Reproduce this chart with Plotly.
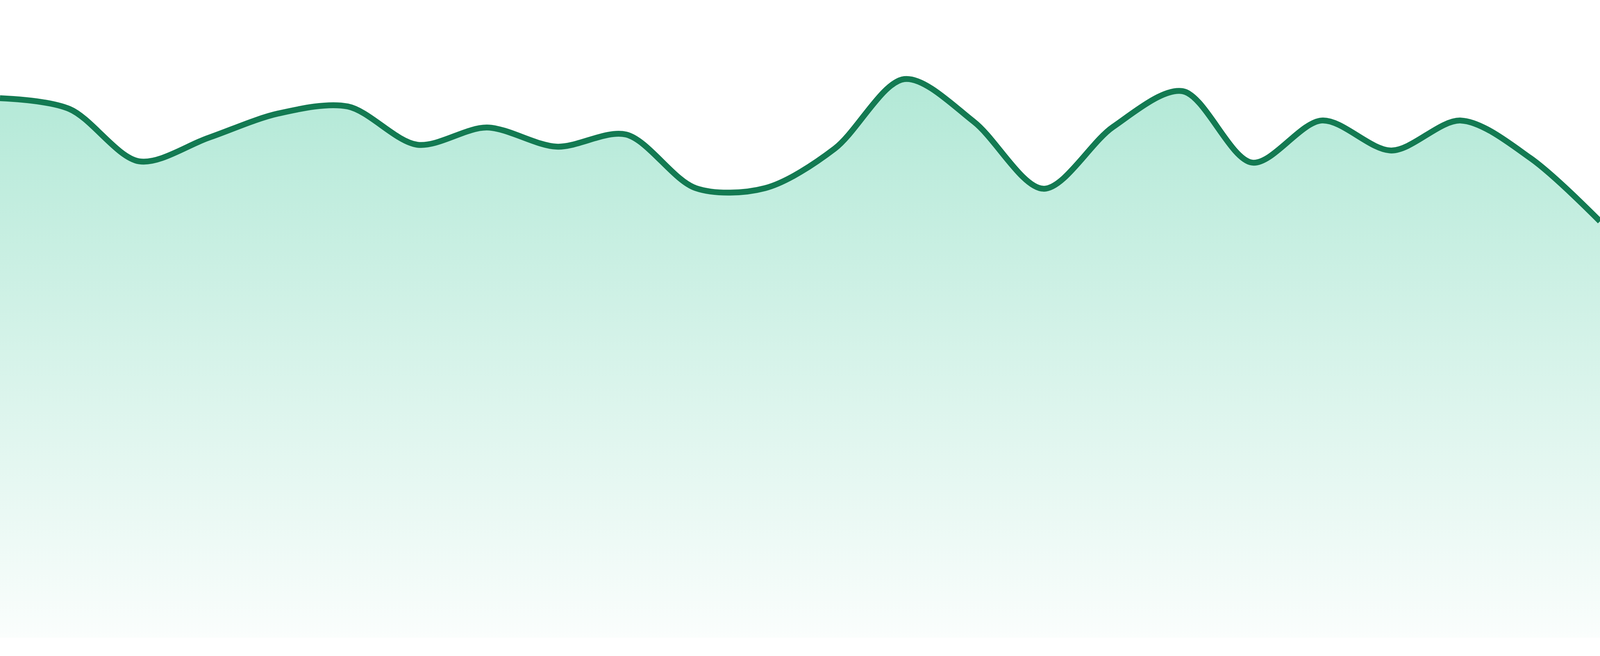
import plotly.graph_objects as go

# ── Data ──────────────────────────────────────────────────────
# 24 evenly spaced samples
steps = list(range(24))
values = [84.6, 82.9, 74.7, 78.4, 82.2, 83.3, 77.3, 80.0,
          77.0, 78.9, 70.5, 70.5, 76.7, 87.6, 80.9, 70.4,
          80.1, 85.7, 74.5, 81.1, 76.4, 81.1, 75.2, 65.3]

LINE_COLOR = "#137a52"

fig = go.Figure()

fig.add_trace(go.Scatter(
    x=steps, y=values,
    mode="lines",
    line=dict(color=LINE_COLOR, width=15, shape="spline", smoothing=0.9),
    fill="tozeroy",
    fillgradient=dict(
        type="vertical",
        colorscale=[[0.0, "rgba(16,185,129,0.02)"],
                    [1.0, "rgba(16,185,129,0.32)"]],
    ),
    hoverinfo="skip",
    showlegend=False,
))

# ── Layout ────────────────────────────────────────────────────
fig.update_layout(
    autosize=True,
    paper_bgcolor="white",
    plot_bgcolor="white",
    margin=dict(l=0, r=0, t=0, b=47),
    showlegend=False,
)
fig.update_xaxes(visible=False, range=[0, 23], fixedrange=True)
fig.update_yaxes(visible=False, range=[0, 100], fixedrange=True)

# drop the default page margin so the chart runs edge to edge
fix_page = (
    "document.body.style.margin='0';"
    "document.body.style.overflow='hidden';"
    "Plotly.Plots.resize(document.getElementById('{plot_id}'));"
)
fig.write_html("out.html", post_script=fix_page,
               config={"displayModeBar": False, "responsive": True})
